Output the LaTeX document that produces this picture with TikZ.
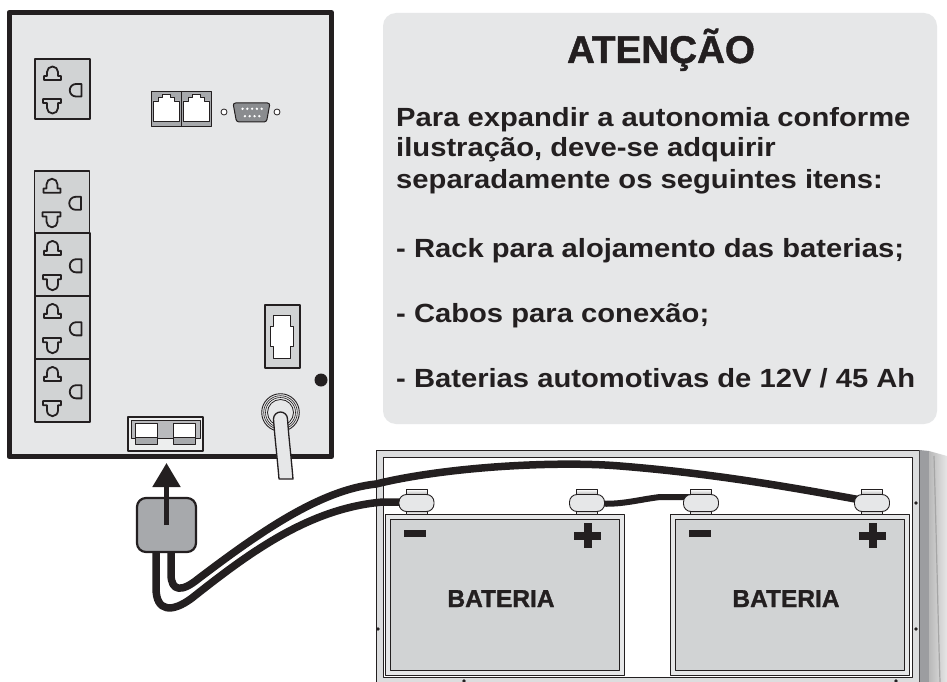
\documentclass[tikz,border=0pt]{standalone}
\usepackage{fontspec}
\setmainfont{Liberation Sans}
\newfontfamily\bodyfont[FakeStretch=1.11]{Liberation Sans}
\newfontfamily\heavyfont[BoldFeatures={FakeBold=1.2}]{Liberation Sans}
\usetikzlibrary{arrows.meta}

\definecolor{ink}{HTML}{231F20}
\definecolor{panel}{HTML}{E6E7E8}
\definecolor{socket}{HTML}{D1D3D4}
\definecolor{midgray}{HTML}{A7A9AC}
\definecolor{pingray}{HTML}{8A8C8F}
\definecolor{bandgray}{HTML}{DCDDDE}
\definecolor{lightband}{HTML}{EDEEEE}

\tikzset{
  pics/outlet/.style={code={
    \draw[fill=socket, draw=ink, line width=1.4] (0,0) rectangle (55,#1);
    \begin{scope}[yscale=#1/60, draw=ink, line width=1.8]
      \draw (9,21) -- (9,17) -- (12,17) -- (12,13) arc[start angle=180,end angle=360,radius=5.5]
            -- (23,17) -- (26,17) -- (26,21) -- cycle;
      \draw (8,40) -- (26,40) -- (26,44) -- (23,44) -- (23,49) arc[start angle=0,end angle=180,radius=5.5]
            -- (12,44) -- (8,44) -- cycle;
      \draw (46.5,25) -- (41,25) arc[start angle=270,end angle=90,radius=6.25] -- (46.5,37.5) -- cycle;
    \end{scope}
  }},
  pics/rjport/.style={code={
    \draw[fill=midgray, draw=ink, line width=0.9] (0,0) rectangle (30,35);
    \draw[fill=white, draw=ink, line width=0.8] (2,30) -- (2,10) -- (7,10) -- (7,6.5) -- (11,6.5) -- (11,3)
          -- (19,3) -- (19,6.5) -- (23,6.5) -- (23,10) -- (28,10) -- (28,30) -- cycle;
  }},
  pics/battery/.style={code={
    \draw[fill=panel, draw=ink, line width=1] (0,0) rectangle (239,161);
    \draw[fill=socket, draw=ink, line width=1] (5,5) rectangle (234,156.5);
    \fill[ink] (19,16) rectangle (41,23);
    \fill[ink] (189,17.5) rectangle (216,25.5);
    \fill[ink] (198.5,9) rectangle (206.5,34);
    \node[anchor=base, inner sep=0, text=ink, font=\heavyfont\fontsize{24.5}{26}\selectfont\bfseries] (-label) at (116,93) {BATERIA};
  }},
  pics/terminal/.style={code={
    \draw[draw=ink, line width=0.7, top color=white, bottom color=gray!75] (-10.5,-12.5) rectangle (10.5,-6);
    \draw[draw=ink, line width=0.7, top color=gray!75, bottom color=white] (-10.5,7) rectangle (10.5,12.5);
    \draw[fill=panel, draw=ink, line width=0.9, rounded corners=7.5] (-17.5,-7.5) rectangle (17.5,9.5);
  }},
  cable/.style={draw=ink, line width=7.5},
  textline/.style={anchor=base west, inner sep=0, text=ink, font=\bodyfont\fontsize{26.3}{30}\selectfont\bfseries},
  screw/.style={fill=ink},
}

\begin{document}
\begin{tikzpicture}[x=1pt, y=-1pt, line join=round]
\useasboundingbox (0,0) rectangle (947,682);
\fill[white] (0,0) rectangle (947,682);

% ---------- UPS rear panel ----------
\draw[fill=panel, draw=ink, line width=5] (9,12.5) rectangle (331.5,456.5);

% outlets
\pic at (35,59) {outlet=60};
\pic at (34.5,171) {outlet=62};
\pic at (35,233) {outlet=63};
\pic at (35,296) {outlet=63};
\pic at (35,359) {outlet=63};

% communication ports
\pic at (151,91) {rjport};
\pic at (181,91) {rjport};
\draw[fill=white, draw=ink, line width=0.8] (224,112) circle (3);
\draw[fill=white, draw=ink, line width=0.8] (277,112) circle (3);
\draw[fill=pingray, draw=ink, line width=1, rounded corners=2.5] (233,103) -- (270,103) -- (266.5,122) -- (236.5,122) -- cycle;
\foreach \i in {0,...,4} \fill[white] (242.5+4.8*\i,108.8) circle (1.3);
\foreach \i in {0,...,3} \fill[white] (244.9+4.8*\i,116.2) circle (1.3);

% breaker
\draw[fill=socket, draw=ink, line width=1.5] (265,305) rectangle (300,368);
\draw[fill=white, draw=ink, line width=1] (273.3,315) -- (290,315) -- (290,326.7) -- (293.3,326.7) -- (293.3,346.7)
      -- (290,346.7) -- (290,358.3) -- (273.3,358.3) -- (273.3,346.7) -- (270,346.7) -- (270,326.7) -- (273.3,326.7) -- cycle;

% grounding screw
\fill[ink] (321,380) circle (6.5);

% cable gland and mains cord
\draw[fill=panel, draw=ink, line width=0.9] (280.5,412.5) circle (18.8);
\draw[draw=ink, line width=0.6] (280.5,412.5) circle (16.8);
\draw[draw=ink, line width=0.6] (280.5,412.5) circle (15);
\draw[draw=ink, line width=0.8] (280.5,412.5) circle (13);
\draw[fill=panel, draw=ink, line width=1.3] (293,479) .. controls (291,455) and (289,440) .. (287.5,419)
      arc[start angle=0, end angle=-180, radius=7] .. controls (275,440) and (277,455) .. (279,479) -- cycle;

% battery connector
\node[draw=ink, line width=1.5, fill=lightband, minimum width=75pt, minimum height=34pt, inner sep=0] (anderson) at (165.5,434) {};
\draw[fill=midgray!80, draw=ink, line width=0.7] (131,420) rectangle (200,438);
\draw[fill=white, draw=ink, line width=0.8] (135,423) rectangle (157,437);
\draw[fill=white, draw=ink, line width=0.8] (173,423) rectangle (195,437);
\draw[fill=midgray, draw=ink, line width=0.8] (135,437) rectangle (157,444);
\draw[fill=midgray, draw=ink, line width=0.8] (173,437) rectangle (195,444);

% ---------- notice ----------
\fill[panel, rounded corners=13] (383,13) rectangle (937,424);
\node[anchor=base, inner sep=0, text=ink, font=\heavyfont\fontsize{38.6}{40}\selectfont\bfseries] (title) at (661,63) {ATENÇÃO};
\node[textline] (l1) at (396,127) {Para expandir a autonomia conforme};
\node[textline] (l2) at (396,157) {ilustração, deve-se adquirir};
\node[textline] (l3) at (396,188) {separadamente os seguintes itens:};
\node[textline] (l4) at (396,257) {- Rack para alojamento das baterias;};
\node[textline] (l5) at (396,322) {- Cabos para conexão;};
\node[textline] (l6) at (396,387) {- Baterias automotivas de 12V / 45 Ah};

% ---------- battery rack ----------
\draw[fill=bandgray, draw=ink, line width=1] (376,450) rectangle (919,700);
\draw[fill=white, draw=ink, line width=1] (383,457) rectangle (912,677.5);
\fill[pingray!85] (919.5,450) -- (929,451) -- (929,682) -- (919.5,682) -- cycle;
\shade[left color=gray!55, right color=gray!20] (929,451) -- (947,456) -- (947,682) -- (929,682) -- cycle;
\draw[gray!70, line width=1.2] (934,456) .. controls (937,560) and (938,620) .. (940,682);
\foreach \p in {(916,503),(916,629),(378,629),(464,681),(896,681)} \fill[screw] \p circle (1.8);

\pic (b1) at (385,514) {battery};
\pic (b2) at (670,514) {battery};

\coordinate (t1n) at (416.5,502);
\coordinate (t1p) at (587,502);
\coordinate (t2n) at (701,502);
\coordinate (t2p) at (872,502);

% ---------- cables ----------
\coordinate (plugA) at (156,545);
\coordinate (plugB) at (171,545);
\draw[cable] (plugA) -- (156,588) .. controls (156,612) and (172,613) .. (192,598)
      .. controls (250,552) and (310,508) .. (383,502) -- (t1n);
\draw[cable] (plugB) -- (171,574) .. controls (171,592) and (182,592) .. (198,579)
      .. controls (260,532) and (320,490) .. (376,484)
      .. controls (450,466) and (560,461) .. (620,466)
      .. controls (720,474) and (800,489) .. (t2p);
\draw[draw=ink, line width=6] (t1p) .. controls (615,507) and (635,500) .. (660,497) -- ([yshift=5pt]t2n);

\pic at (t1n) {terminal};
\pic at (t1p) {terminal};
\pic at (t2n) {terminal};
\pic at (t2p) {terminal};

% ---------- plug and arrow ----------
\node[draw=ink, line width=2.2, fill=midgray, rounded corners=9, minimum width=59pt, minimum height=54pt, inner sep=0] (plug) at (166.5,525) {};
\coordinate (tip) at (166.5,463);
\draw[ink, line width=5, -{Triangle[width=27pt,length=24pt]}] (plug.center) -- (tip);

\end{tikzpicture}
\end{document}
